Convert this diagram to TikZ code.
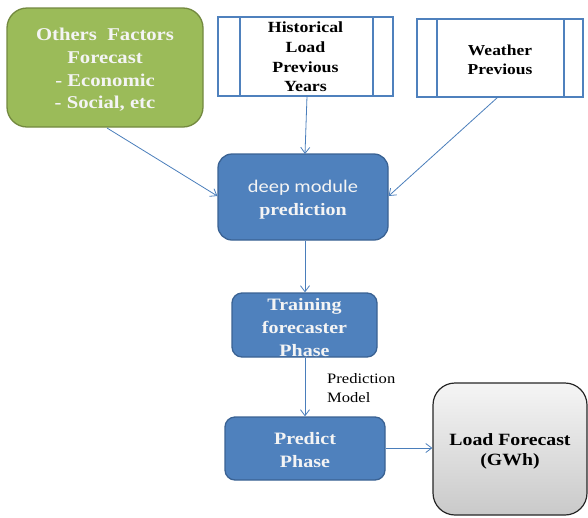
\documentclass[tikz,border=0pt]{standalone}
\usepackage{fontspec}
\setmainfont{Liberation Serif}[FakeStretch=1.15]
\newfontfamily\calfont{Carlito}[FakeStretch=1.15]
\usetikzlibrary{arrows.meta}
\definecolor{boxblue}{HTML}{4F81BD}
\definecolor{boxblueline}{HTML}{3A6293}
\definecolor{boxgreen}{HTML}{9BBB59}
\definecolor{boxgreenline}{HTML}{73893F}
\definecolor{flowline}{HTML}{4A7EBB}
\definecolor{paletext}{HTML}{F4F4F4}
\newcommand{\fsz}[2]{\fontsize{#1}{#2}\selectfont}
\tikzset{
  bluebox/.style={draw=boxblueline, line width=1.3pt, fill=boxblue, rounded corners=14pt,
    inner sep=0pt},
  greenbox/.style={draw=boxgreenline, line width=1.3pt, fill=boxgreen, rounded corners=20pt,
    inner sep=0pt},
  databox/.style={draw=boxblue, line width=2pt, fill=white, inner sep=0pt},
  resultbox/.style={draw=black!85, line width=1.2pt, top color=gray!8, bottom color=gray!42,
    rounded corners=22pt, inner sep=0pt},
  palelabel/.style={text=paletext, align=center, inner sep=0pt},
  darklabel/.style={text=black, align=center, inner sep=0pt},
  flow/.style={draw=flowline, line width=0.8pt, -{Straight Barb[length=6pt,width=9pt]}},
}
\begin{document}
\begin{tikzpicture}[x=1pt,y=-1pt]
\useasboundingbox (0,0) rectangle (588,517);

% input boxes
\node[greenbox, minimum width=196pt, minimum height=119pt] (other) at (105,67.5) {};
\node[palelabel, font=\bfseries\fsz{18}{22.6}] (othertxt) at (105,70)
  {Others\ \ Factors\\Forecast\\- Economic\\- Social, etc};
\node[databox, minimum width=175pt, minimum height=79pt] (hist) at (305.5,56.5) {};
\node[darklabel, font=\bfseries\fsz{15.5}{19.6}] (histtxt) at (305.5,57)
  {Historical\\Load\\Previous\\Years};
\node[databox, minimum width=166pt, minimum height=78pt] (weather) at (500,58) {};
\node[darklabel, font=\bfseries\fsz{15.2}{18.8}] (weathertxt) at (500,59.5)
  {Weather\\Previous};

% side bars of the data boxes
\foreach \b/\l/\r in {hist/23/21, weather/21/20} {
  \draw[boxblue, line width=2pt] ([xshift=\l pt]\b.north west) -- ([xshift=\l pt]\b.south west);
  \draw[boxblue, line width=2pt] ([xshift=-\r pt]\b.north east) -- ([xshift=-\r pt]\b.south east);
}

% processing chain
\node[bluebox, minimum width=170pt, minimum height=86pt] (deep) at (303,197) {};
\node[palelabel, font=\fsz{17.4}{23}] (deeptxt) at (303,200)
  {{\calfont\fsz{17.8}{23}deep module}\\\textbf{prediction}};
\node[bluebox, rounded corners=10pt, minimum width=145pt, minimum height=64pt]
  (train) at (304.5,325) {};
\node[palelabel, font=\bfseries\fsz{17.4}{23}] (traintxt) at (304.5,327.5)
  {Training\\forecaster\\Phase};
\node[bluebox, rounded corners=10pt, minimum width=160pt, minimum height=63pt]
  (predict) at (305,448.5) {};
\node[palelabel, font=\bfseries\fsz{17.4}{23}] (predicttxt) at (305,450)
  {Predict\\Phase};
\node[resultbox, minimum width=154pt, minimum height=132pt] (load) at (510,449) {};
\node[darklabel, font=\bfseries\fsz{17.2}{19.5}] (loadtxt) at (510,451.5)
  {Load Forecast\\(GWh)};

% label on the last vertical link
\node[anchor=north west, align=left, inner sep=0pt, font=\fsz{14.4}{19}]
  (modellabel) at (327,373) {Prediction\\Model};

% connectors
\coordinate (otherout) at (107,128);
\coordinate (histout) at (307,96);
\coordinate (weatherout) at (498,97);
\draw[flow] (otherout) -- (deep.west |- 0,196);
\draw[flow] (histout) -- (305,154);
\draw[flow] (weatherout) -- (deep.east |- 0,196);
\draw[flow] (deep.south -| 305,0) -- (train.north -| 305,0);
\draw[flow] (train.south -| 305,0) -- (predict.north -| 305,0);
\draw[flow] (predict.east |- 0,448) -- (load.west |- 0,448);
\end{tikzpicture}
\end{document}
